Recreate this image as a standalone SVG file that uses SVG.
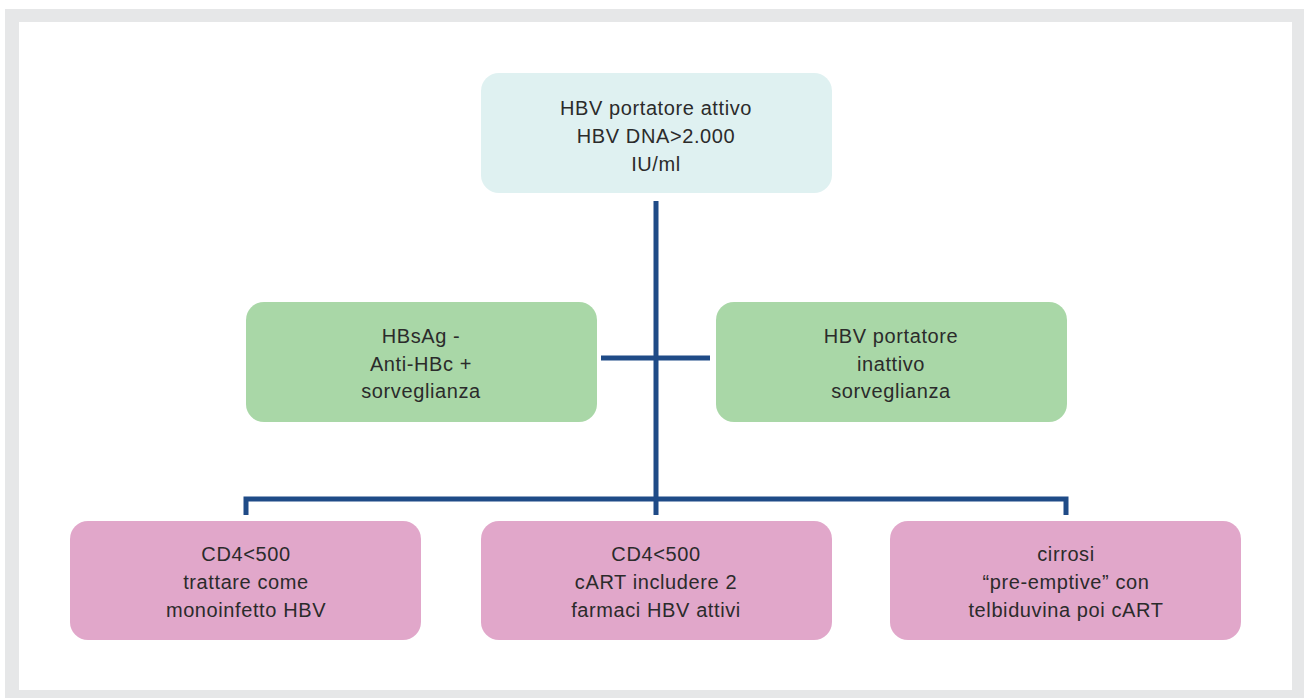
<svg xmlns="http://www.w3.org/2000/svg" width="1304" height="698" viewBox="0 0 1304 698">
  <style>
    .box { stroke: none; }
    .top { fill: #DFF1F1; }
    .mid { fill: #A9D7A7; }
    .bot { fill: #E1A7CA; }
    .lbl { font-family: "Liberation Sans", Arial, Helvetica, sans-serif; font-size: 20px; letter-spacing: 0.6px; fill: #2B2B2B; text-anchor: middle; }
    .conn { stroke: #1F4B87; stroke-width: 5; fill: none; }
  </style>
  <!-- frame -->
  <rect x="5" y="9" width="1299" height="689" fill="#E6E7E8"/>
  <rect x="19" y="22" width="1273" height="668" fill="#FFFFFF"/>

  <g id="connectors">
    <line class="conn" x1="656" y1="201" x2="656" y2="515"/>
    <line class="conn" x1="601" y1="358" x2="710" y2="358"/>
    <polyline class="conn" points="246,515 246,499 1066,499 1066,515"/>
  </g>

  <g id="node-active">
    <rect class="box top" x="481" y="73" width="351" height="120" rx="18"/>
    <text class="lbl" x="656" y="115">HBV portatore attivo</text>
    <text class="lbl" x="656" y="143">HBV DNA&gt;2.000</text>
    <text class="lbl" x="656" y="171">IU/ml</text>
  </g>

  <g id="node-hbsag">
    <rect class="box mid" x="246" y="302" width="351" height="120" rx="18"/>
    <text class="lbl" x="421" y="343">HBsAg -</text>
    <text class="lbl" x="421" y="371">Anti-HBc +</text>
    <text class="lbl" x="421" y="398">sorveglianza</text>
  </g>

  <g id="node-inactive">
    <rect class="box mid" x="716" y="302" width="351" height="120" rx="18"/>
    <text class="lbl" x="891" y="343">HBV portatore</text>
    <text class="lbl" x="891" y="371">inattivo</text>
    <text class="lbl" x="891" y="398">sorveglianza</text>
  </g>

  <g id="node-mono">
    <rect class="box bot" x="70" y="521" width="351" height="119" rx="18"/>
    <text class="lbl" x="246" y="561">CD4&lt;500</text>
    <text class="lbl" x="246" y="589">trattare come</text>
    <text class="lbl" x="246" y="617">monoinfetto HBV</text>
  </g>

  <g id="node-cart">
    <rect class="box bot" x="481" y="521" width="351" height="119" rx="18"/>
    <text class="lbl" x="656" y="561">CD4&lt;500</text>
    <text class="lbl" x="656" y="589">cART includere 2</text>
    <text class="lbl" x="656" y="617">farmaci HBV attivi</text>
  </g>

  <g id="node-cirrosi">
    <rect class="box bot" x="890" y="521" width="351" height="119" rx="18"/>
    <text class="lbl" x="1066" y="561">cirrosi</text>
    <text class="lbl" x="1066" y="589">“pre-emptive” con</text>
    <text class="lbl" x="1066" y="617">telbiduvina poi cART</text>
  </g>
</svg>
